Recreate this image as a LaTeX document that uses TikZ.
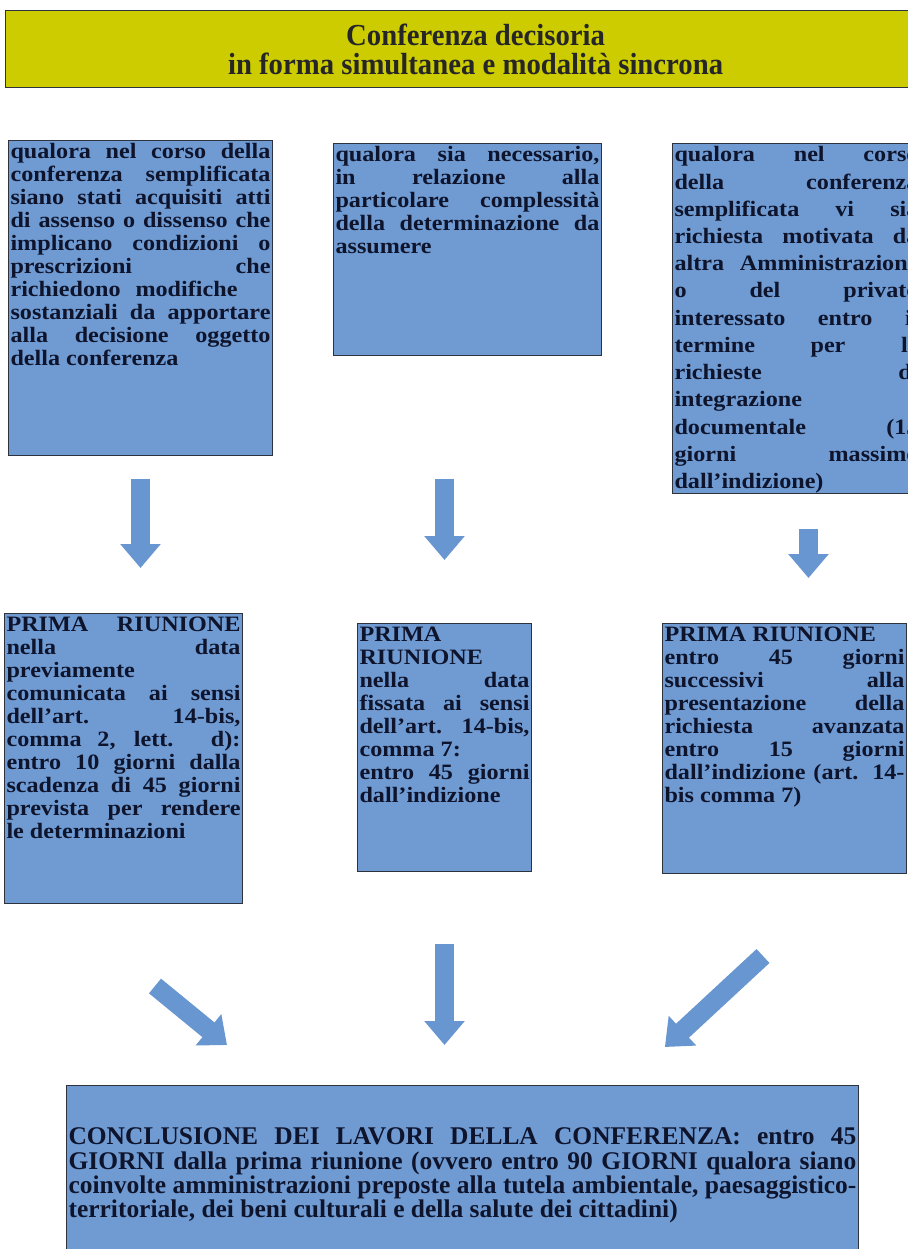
\documentclass[tikz,border=0pt]{standalone}
\usepackage{fontspec}
\setmainfont{Liberation Serif}
\newfontfamily\cellfont[FakeStretch=1.1]{Liberation Serif}
\newfontfamily\headfont[FakeStretch=0.94]{Liberation Serif}
\usetikzlibrary{arrows.meta,calc}
\definecolor{boxblue}{RGB}{111,155,210}
\definecolor{arrowblue}{RGB}{104,150,208}
\definecolor{headyellow}{RGB}{204,204,0}
\definecolor{edgegray}{RGB}{45,50,60}
\definecolor{inkblue}{RGB}{15,20,45}
\newcommand{\celltext}[3]{\parbox[t][#2][t]{#1}{\tolerance=10000 \pretolerance=10000 \hyphenpenalty=10000 \exhyphenpenalty=10000 #3}}

\begin{document}
\begin{tikzpicture}[x=0.02cm, y=-0.02cm]
	\tikzset{cell/.style = {draw=edgegray, line width=.6pt, fill=boxblue, text=inkblue, anchor=north west, inner xsep=.04cm, inner ysep=.06cm, font=\cellfont\bfseries\fontsize{12.5}{13.1}\selectfont},
		fatarrow/.style = {arrowblue, line width=.38cm, -{Triangle[width=.78cm,length=.48cm]}}}
	\useasboundingbox (0,0) rectangle (908,1249);
	\clip (0,0) rectangle (908,1249);
	% title
	\node[draw=edgegray, line width=.8pt, fill=headyellow, anchor=north west, minimum width=18.8cm, minimum height=1.54cm, align=center, font=\headfont\bfseries\fontsize{17.4}{16.8}\selectfont, text=black!85] (head) at (5,10) {Conferenza decisoria\\ in forma simultanea e modalità sincrona};
	% the three cases
	\node[cell] (qa) at (8,140) {\celltext{5.2cm}{6.18cm}{qualora nel corso della\linebreak conferenza semplificata\linebreak siano stati acquisiti atti\linebreak di assenso o dissenso che\linebreak implicano condizioni o\linebreak prescrizioni che\linebreak richiedono modifiche\kern1.5em\linebreak sostanziali da apportare\linebreak alla decisione oggetto\linebreak della conferenza}};
	\node[cell] (qb) at (333,143) {\celltext{5.28cm}{4.12cm}{qualora sia necessario,\linebreak in relazione alla\linebreak particolare complessità\linebreak della determinazione da\linebreak assumere}};
	\node[cell, font=\cellfont\bfseries\fontsize{12.5}{15.5}\selectfont] (qc) at (672,143) {\celltext{4.88cm}{6.88cm}{qualora nel corso\linebreak della conferenza\linebreak semplificata vi sia\linebreak richiesta motivata da\linebreak altra Amministrazione\linebreak o del privato\linebreak interessato entro il\linebreak termine per le\linebreak richieste di\linebreak integrazione\\ documentale (15\linebreak giorni massimo\linebreak dall’indizione)}};
	% first meeting
	\node[cell] (pa) at (4,613) {\celltext{4.68cm}{5.68cm}{PRIMA RIUNIONE\linebreak nella data\linebreak previamente\\ comunicata ai sensi\linebreak dell’art. 14-bis,\linebreak comma 2, lett. d):\linebreak entro 10 giorni dalla\linebreak scadenza di 45 giorni\linebreak prevista per rendere\linebreak le determinazioni}};
	\node[cell] (pb) at (357,623) {\celltext{3.4cm}{4.84cm}{PRIMA\\ RIUNIONE\\ nella data\linebreak fissata ai sensi\linebreak dell’art. 14-bis,\linebreak comma 7:\\ entro 45 giorni\linebreak dall’indizione}};
	\node[cell] (pc) at (662,623) {\celltext{4.8cm}{4.88cm}{PRIMA RIUNIONE\\ entro 45 giorni\linebreak successivi alla\linebreak presentazione della\linebreak richiesta avanzata\linebreak entro 15 giorni\linebreak dall’indizione (art. 14-\linebreak bis comma 7)}};
	% conclusion
	\node[cell, font=\bfseries\fontsize{14.5}{13.8}\selectfont, minimum height=3.6cm] (cl) at (66,1085) {\parbox{15.76cm}{\tolerance=10000 \pretolerance=10000 \hyphenpenalty=10000 \exhyphenpenalty=10000 CONCLUSIONE DEI LAVORI DELLA CONFERENZA: entro 45\linebreak GIORNI dalla prima riunione (ovvero entro 90 GIORNI qualora siano\linebreak coinvolte amministrazioni preposte alla tutela ambientale, paesaggistico-\linebreak territoriale, dei beni culturali e della salute dei cittadini)}};
	% arrows
	\coordinate (rtip) at ([xshift=.48cm]pc.north);
	\draw[fatarrow, shorten <=.46cm, shorten >=.9cm] (qa.south) -- (qa.south |- pa.north);
	\draw[fatarrow, shorten <=2.46cm, shorten >=1.26cm] (pb.north |- qb.south) -- (pb.north);
	\draw[fatarrow, shorten <=.7cm, shorten >=.9cm] (rtip |- qc.south) -- (rtip);
	\draw[fatarrow, shorten <=1.44cm, shorten >=.8cm] (pb.south) -- (pb.south |- cl.north);
	\draw[fatarrow] ($(pa.south west)+(151,82)$) -- ($(cl.north west)+(161,-40)$);
	\draw[fatarrow] ($(pc.south east)+(-144,82)$) -- ($(cl.north east)+(-194,-38)$);
\end{tikzpicture}
\end{document}
